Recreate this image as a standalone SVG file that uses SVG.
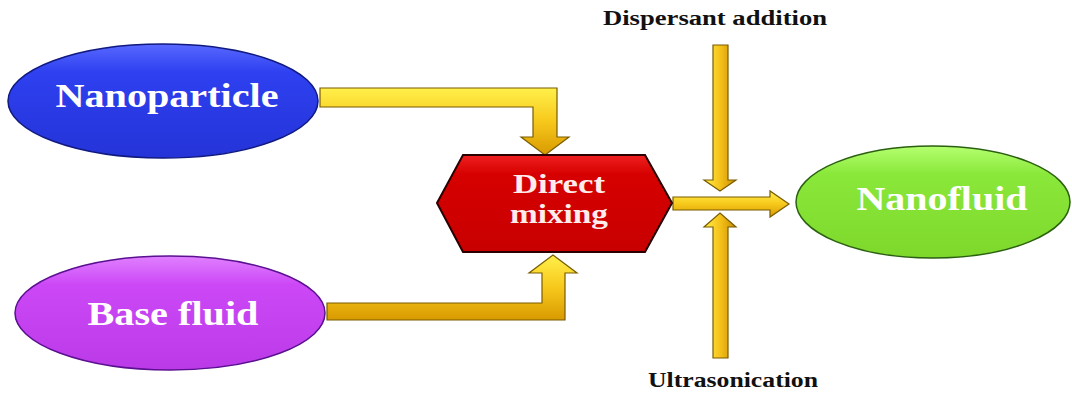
<svg xmlns="http://www.w3.org/2000/svg" width="1072" height="394" viewBox="0 0 1072 394">
<defs>
<linearGradient id="goldV" x1="0" y1="0" x2="0" y2="1">
<stop offset="0" stop-color="#fff04a"/>
<stop offset="0.5" stop-color="#f7c81c"/>
<stop offset="1" stop-color="#d89a00"/>
</linearGradient>
<linearGradient id="goldH" x1="0" y1="0" x2="1" y2="0">
<stop offset="0" stop-color="#fff04a"/>
<stop offset="0.5" stop-color="#f5c21a"/>
<stop offset="1" stop-color="#c88e00"/>
</linearGradient>
<linearGradient id="blueG" x1="0" y1="0" x2="0" y2="1">
<stop offset="0" stop-color="#5868ff"/>
<stop offset="0.25" stop-color="#2e40f0"/>
<stop offset="1" stop-color="#2434d8"/>
</linearGradient>
<linearGradient id="purpleG" x1="0" y1="0" x2="0" y2="1">
<stop offset="0" stop-color="#e080ff"/>
<stop offset="0.25" stop-color="#cc48f6"/>
<stop offset="1" stop-color="#bb3ae8"/>
</linearGradient>
<linearGradient id="greenG" x1="0" y1="0" x2="0" y2="1">
<stop offset="0" stop-color="#b4ff70"/>
<stop offset="0.25" stop-color="#8ae83a"/>
<stop offset="1" stop-color="#7ed82c"/>
</linearGradient>
<linearGradient id="redG" x1="0" y1="0" x2="0" y2="1">
<stop offset="0" stop-color="#f02020"/>
<stop offset="0.2" stop-color="#d60000"/>
<stop offset="1" stop-color="#c80000"/>
</linearGradient>
</defs>
<style>
.lbl{font-family:"Liberation Serif","Times New Roman",serif;font-weight:bold;fill:#ffffff;text-anchor:middle}
.big{font-size:33px}
.mid{font-size:27px;fill:#ffecec}
.cap{font-family:"Liberation Serif","Times New Roman",serif;font-weight:bold;font-size:20px;fill:#111111;text-anchor:middle}
.arr{stroke:#7a5c00;stroke-width:1.2;stroke-linejoin:miter}
</style>
<g id="connectors">
<path class="arr" fill="url(#goldV)" d="M320,88 H557 V137 H569 L545,155 L521,137 H533 V107 H320 Z"/>
<path class="arr" fill="url(#goldV)" d="M327,320 H565 V273 H577 L553,255 L529,273 H542 V303 H327 Z"/>
<path class="arr" fill="url(#goldV)" d="M673,197 H770 V191 L789,204 L770,217 V210 H673 Z"/>
<path class="arr" fill="url(#goldH)" d="M713,45 H728 V180 H736 L720,191 L704,180 H713 Z"/>
<path class="arr" fill="url(#goldH)" d="M713,358 V227 H704 L720,213 L736,227 H728 V358 Z"/>
</g>
<g id="nanoparticle">
<ellipse cx="163" cy="101" rx="155" ry="57" fill="url(#blueG)" stroke="#101a80" stroke-width="1.5"/>
<text class="lbl big" x="167" y="107" textLength="223" lengthAdjust="spacingAndGlyphs">Nanoparticle</text>
</g>
<g id="base-fluid">
<ellipse cx="170" cy="313" rx="155" ry="57" fill="url(#purpleG)" stroke="#5a1090" stroke-width="1.5"/>
<text class="lbl big" x="173" y="325" textLength="171" lengthAdjust="spacingAndGlyphs">Base fluid</text>
</g>
<g id="direct-mixing">
<polygon points="437,203 463,155 645,155 672,203 645,252 463,252" fill="url(#redG)" stroke="#2a0000" stroke-width="2"/>
<text class="lbl mid" x="559" y="193" textLength="92" lengthAdjust="spacingAndGlyphs">Direct</text>
<text class="lbl mid" x="559" y="223" textLength="98" lengthAdjust="spacingAndGlyphs">mixing</text>
</g>
<g id="nanofluid">
<ellipse cx="933" cy="202" rx="137" ry="56" fill="url(#greenG)" stroke="#2a6010" stroke-width="1.5"/>
<text class="lbl big" x="942" y="210" textLength="171" lengthAdjust="spacingAndGlyphs">Nanofluid</text>
</g>
<g id="dispersant-addition">
<text class="cap" x="715" y="25" textLength="224" lengthAdjust="spacingAndGlyphs">Dispersant addition</text>
</g>
<g id="ultrasonication">
<text class="cap" x="733" y="387" textLength="170" lengthAdjust="spacingAndGlyphs">Ultrasonication</text>
</g>
</svg>
